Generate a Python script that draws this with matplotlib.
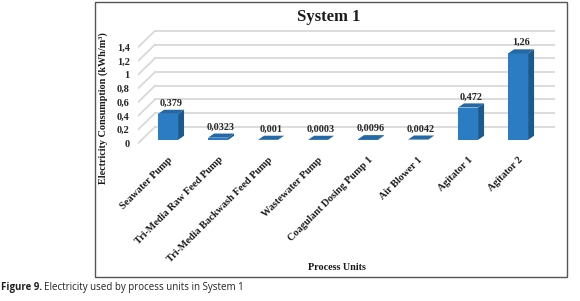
import numpy as np
import matplotlib.pyplot as plt
from matplotlib.patches import Polygon, Rectangle

# data
units = ["Seawater Pump", "Tri-Media Raw Feed Pump", "Tri-Media Backwash Feed Pump",
         "Wastewater Pump", "Coagulant Dosing Pump 1", "Air Blower 1", "Agitator 1", "Agitator 2"]
consumption = [0.379, 0.0323, 0.001, 0.0003, 0.0096, 0.0042, 0.472, 1.26]
value_labels = ["0,379", "0,0323", "0,001", "0,0003", "0,0096", "0,0042", "0,472", "1,26"]
y_ticks = [0, 0.2, 0.4, 0.6, 0.8, 1.0, 1.2, 1.4]
y_tick_labels = ["0", "0,2", "0,4", "0,6", "0,8", "1", "1,2", "1,4"]

serif = "Liberation Serif"
front_c = "#2B7CC3"
side_c = "#1B5A8E"
top_c = "#2469A6"
grid_c = "#D9D9D9"

fig = plt.figure(figsize=(5.8, 3.01), dpi=100)
ax = fig.add_axes([0.238, 0.517, 0.719, 0.383])

xl, xr = -0.6, 7.74
ax.set_xlim(xl, xr)
ax.set_ylim(-0.08, 1.6)

# wall depth and bar depth (data units)
wdx, wdy = 0.34, 0.19
front_off = 0.05
bdx, bdy = 0.12, 0.06
w = 0.4

# gridlines: side wall diagonal + back wall
for v in y_ticks:
    ax.plot([xl, xl + wdx], [v - front_off, v + wdy], color=grid_c, lw=1.3, zorder=1)
    ax.plot([xl + wdx, xr], [v + wdy, v + wdy], color=grid_c, lw=1.3, zorder=1)

x = np.arange(len(units))
ax.bar(x, consumption, width=w, color=front_c, zorder=3)
for i, v in zip(x, consumption):
    side = [(i + w/2, 0), (i + w/2 + bdx, bdy), (i + w/2 + bdx, v + bdy), (i + w/2, v)]
    top = [(i - w/2, v), (i - w/2 + bdx, v + bdy), (i + w/2 + bdx, v + bdy), (i + w/2, v)]
    ax.add_patch(Polygon(side, closed=True, facecolor=side_c, edgecolor="none", zorder=3))
    ax.add_patch(Polygon(top, closed=True, facecolor=top_c, edgecolor="none", zorder=4))

for i, v, lab in zip(x, consumption, value_labels):
    ax.text(i + bdx/2, v + bdy + 0.03, lab, ha="center", va="bottom",
            fontsize=7.3, fontweight="bold", family=serif, color="#262626")

ax.set_yticks([v - front_off for v in y_ticks])
ax.set_yticklabels(y_tick_labels, fontsize=7.5, fontweight="bold", family=serif, color="#262626")
ax.set_xticks(x)
ax.set_xticklabels(units, rotation=45, ha="right", rotation_mode="anchor",
                   fontsize=7.4, fontweight="bold", family=serif, color="#1a1a1a")
ax.tick_params(axis="both", length=0)
ax.tick_params(axis="x", pad=7)
ax.tick_params(axis="y", pad=6)
for s in ax.spines.values():
    s.set_visible(False)
ax.patch.set_alpha(0)

# outer frame
fig.patches.append(Rectangle((0.164, 0.08), 0.814, 0.913, transform=fig.transFigure,
                             fill=False, edgecolor="#555555", lw=1.0))

fig.text(0.566, 0.943, "System 1", ha="center", va="center", fontsize=12,
         fontweight="bold", family=serif, color="#1a1a1a")
fig.text(0.178, 0.641, "Electricity Consumption (kWh/m\u00b3)", rotation=90, ha="center",
         va="center", fontsize=7.3, fontweight="bold", family=serif, color="#1a1a1a")
fig.text(0.581, 0.11, "Process Units", ha="center", va="center", fontsize=7.3,
         fontweight="bold", family=serif, color="#1a1a1a")

# caption
t1 = fig.text(0.002, 0.046, "Figure 9.", ha="left", va="center", fontsize=7,
              fontweight="bold", family="Open Sans", color="#222222")
fig.canvas.draw()
bb = t1.get_window_extent().transformed(fig.transFigure.inverted())
fig.text(bb.x1 + 0.004, 0.046, "Electricity used by process units in System 1", ha="left",
         va="center", fontsize=7, family="Open Sans", color="#222222")

fig.savefig("out.png", dpi=100)
